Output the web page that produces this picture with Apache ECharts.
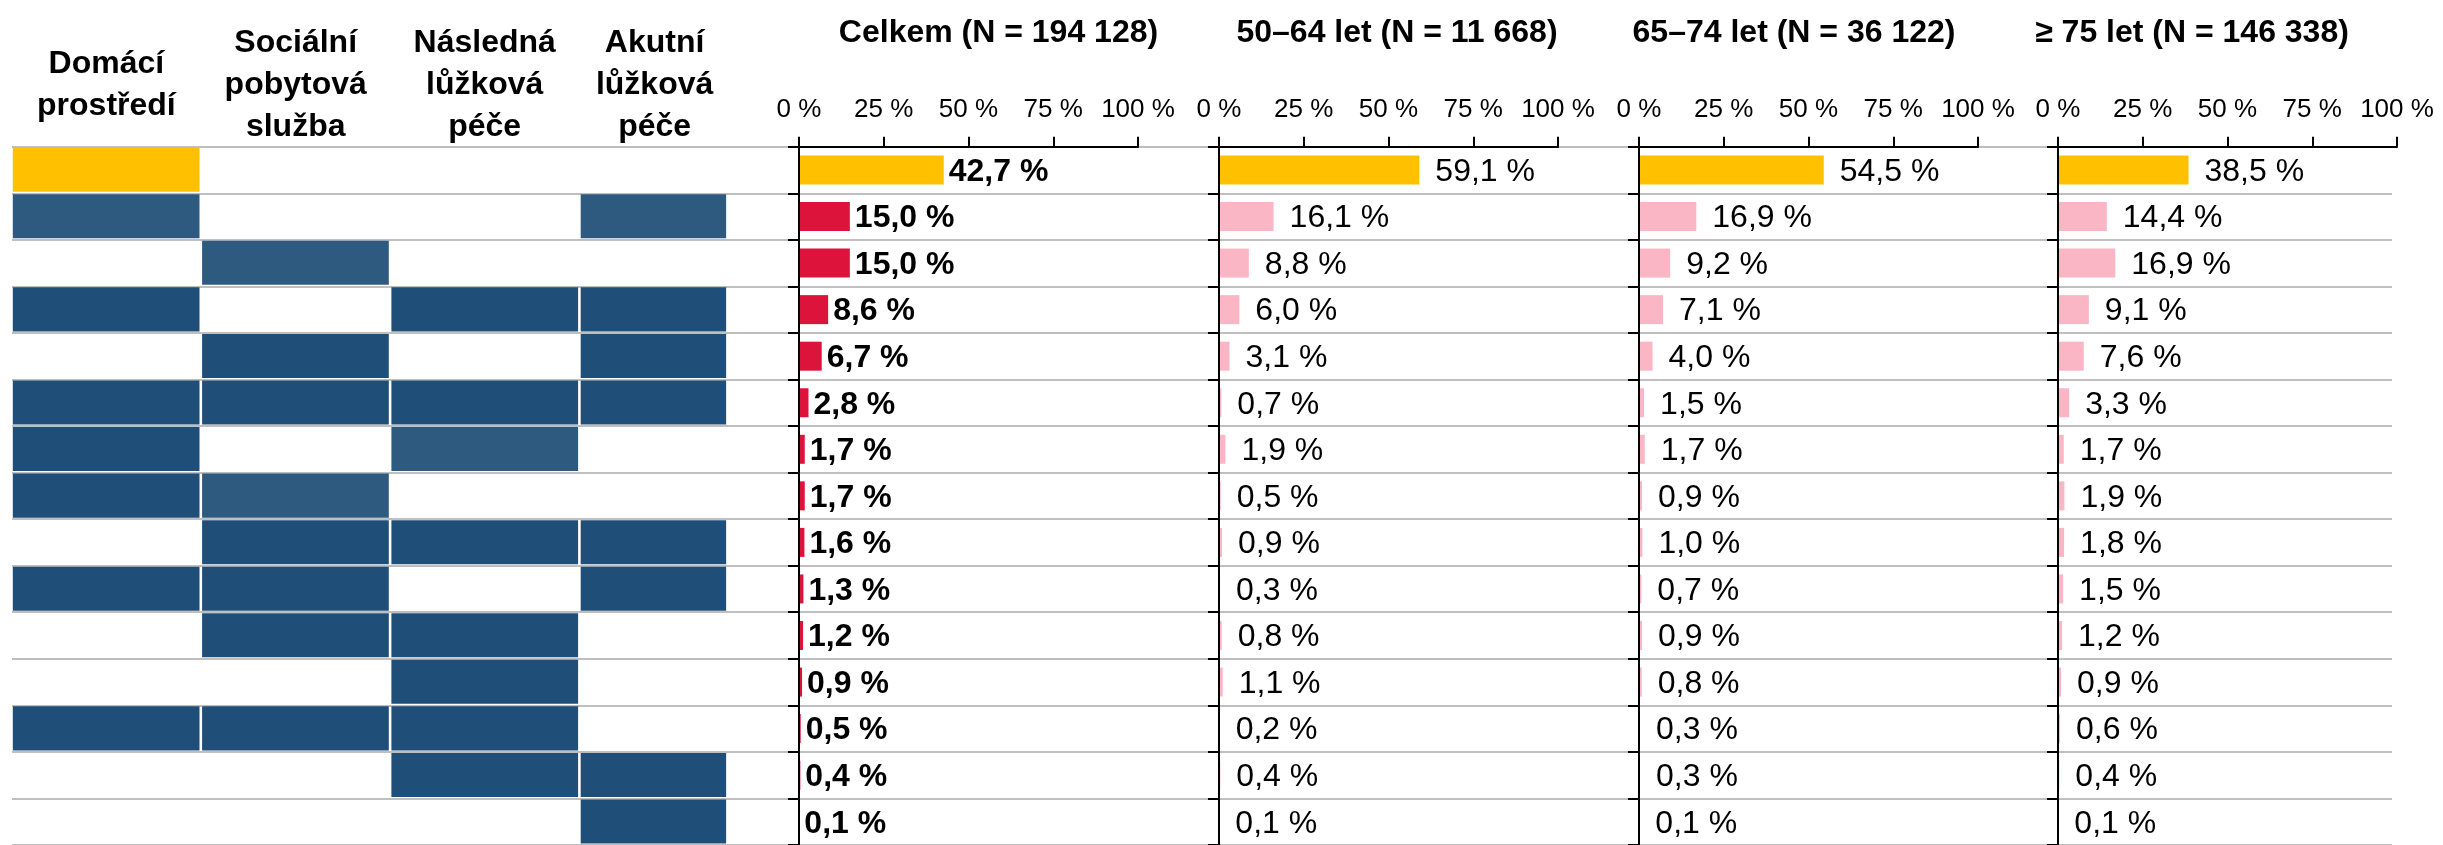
<!DOCTYPE html>
<html>
<head>
<meta charset="utf-8">
<title>Kombinace péče</title>
<script src="https://cdn.jsdelivr.net/npm/echarts@6/dist/echarts.min.js"></script>
<style>
  html, body { margin: 0; padding: 0; background: #fff; }
  #chart { width: 2443px; height: 845px; }
</style>
</head>
<body>
<div id="chart"></div>
<script>
// table columns (header text)
const columns = ['Domácí\nprostředí', 'Sociální\npobytová\nslužba', 'Následná\nlůžková\npéče', 'Akutní\nlůžková\npéče']
// which columns are part of each combination: 0 none, 1 dark, 2 light, 3 yellow
const combos = [
  [3, 0, 0, 0],
  [2, 0, 0, 2],
  [0, 2, 0, 0],
  [1, 0, 1, 1],
  [0, 1, 0, 1],
  [1, 1, 1, 1],
  [1, 0, 2, 0],
  [1, 2, 0, 0],
  [0, 1, 1, 1],
  [1, 1, 0, 1],
  [0, 1, 1, 0],
  [0, 0, 1, 0],
  [1, 1, 1, 0],
  [0, 0, 1, 1],
  [0, 0, 0, 1]
]
const panelTitles = ['Celkem (N = 194 128)', '50–64 let (N = 11 668)', '65–74 let (N = 36 122)', '≥ 75 let (N = 146 338)']
const celkem = [42.7, 15.0, 15.0, 8.6, 6.7, 2.8, 1.7, 1.7, 1.6, 1.3, 1.2, 0.9, 0.5, 0.4, 0.1]
const age5064 = [59.1, 16.1, 8.8, 6.0, 3.1, 0.7, 1.9, 0.5, 0.9, 0.3, 0.8, 1.1, 0.2, 0.4, 0.1]
const age6574 = [54.5, 16.9, 9.2, 7.1, 4.0, 1.5, 1.7, 0.9, 1.0, 0.7, 0.9, 0.8, 0.3, 0.3, 0.1]
const age75 = [38.5, 14.4, 16.9, 9.1, 7.6, 3.3, 1.7, 1.9, 1.8, 1.5, 1.2, 0.9, 0.6, 0.4, 0.1]
const ticks = [0, 25, 50, 75, 100]

// row names built from the combinations
const categories = combos.map(r => r.map((v, i) => v ? columns[i].split('\n')[0] : null).filter(Boolean).join(' + '))
const panels = [celkem, age5064, age6574, age75]

// layout
const font = '"Liberation Sans", Arial, sans-serif'
const rowTop = 146.7, rowH = 46.9
const tableLeft = 12.8, colPitch = 189.3
const colSpan = [1, 1, 1, 0.782]
const panelLeft = [799, 1219, 1639, 2058], panelW = 339
const headerX = [106.4, 295.7, 484.7, 654.6]
const titleX = [998.5, 1397, 1794, 2192]
const cellColors = [null, '#1f4e79', '#2f5a80', '#ffc000']

const chart = echarts.init(document.getElementById('chart'))

const pct = v => v.toFixed(1).replace('.', ',') + ' %'

const grids = [
  // row separators across the whole width
  {left: 12, width: 2380, top: rowTop, height: rowH * combos.length},
  // table of combinations
  {left: tableLeft, width: colPitch * 4, top: rowTop, height: rowH * combos.length}
]
const xAxes = [
  {gridIndex: 0, type: 'value', show: false},
  {gridIndex: 1, type: 'value', min: 0, max: 4, show: false}
]
const yAxes = [
  {
    gridIndex: 0, type: 'category', inverse: true, data: categories,
    axisLine: {show: false}, axisTick: {show: false}, axisLabel: {show: false},
    splitLine: {show: true, lineStyle: {color: '#bfbfbf', width: 2}}
  },
  {gridIndex: 1, type: 'category', inverse: true, data: categories, show: false}
]

const cells = []
combos.forEach((r, row) => r.forEach((v, col) => { if (v) cells.push([col, row, v]) }))

const series = [{
  type: 'custom',
  xAxisIndex: 1,
  yAxisIndex: 1,
  data: cells,
  renderItem(params, api) {
    const col = api.value(0), row = api.value(1), kind = api.value(2)
    const p = api.coord([col, row])
    const size = api.size([1, 1])
    return {
      type: 'rect',
      shape: {x: p[0], y: p[1] - size[1] / 2 + 1, width: size[0] * colSpan[col] - 2.6, height: size[1] - 2.5},
      style: {fill: cellColors[kind]}
    }
  }
}]

panels.forEach((values, i) => {
  const g = grids.length
  grids.push({left: panelLeft[i], width: panelW, top: rowTop, height: rowH * combos.length})
  xAxes.push({
    gridIndex: g, type: 'value', position: 'top',
    min: ticks[0], max: ticks[ticks.length - 1], interval: ticks[1] - ticks[0],
    z: 5,
    axisLine: {show: true, lineStyle: {color: '#000', width: 2}},
    axisTick: {show: true, inside: false, length: 10, lineStyle: {color: '#000', width: 2}},
    axisLabel: {margin: 24, color: '#000', fontSize: 26, fontFamily: font, formatter: '{value} %'},
    splitLine: {show: false}
  })
  yAxes.push({
    gridIndex: g, type: 'category', inverse: true, data: categories,
    z: 5,
    axisLine: {show: true, lineStyle: {color: '#000', width: 2}},
    axisTick: {show: true, length: 11, lineStyle: {color: '#000', width: 2}},
    axisLabel: {show: false}
  })
  series.push({
    type: 'bar',
    name: panelTitles[i],
    xAxisIndex: g,
    yAxisIndex: g,
    barWidth: 29,
    data: values.map((v, k) => ({
      value: v,
      itemStyle: {color: k === 0 ? '#ffc000' : (i === 0 ? '#dc143c' : '#fab6c4')}
    })),
    label: {
      show: true,
      position: 'right',
      distance: i === 0 ? 5 : 16,
      offset: [0, 2],
      color: '#000',
      fontSize: 32,
      fontFamily: font,
      fontWeight: i === 0 ? 'bold' : 'normal',
      formatter: p => pct(p.value)
    }
  })
})

const graphic = columns.map((c, i) => ({
  type: 'text',
  style: {
    text: c, x: headerX[i], y: 85,
    textAlign: 'center', textVerticalAlign: 'middle',
    font: 'bold 32px ' + font, lineHeight: 42, fill: '#000'
  }
})).concat(panelTitles.map((t, i) => ({
  type: 'text',
  style: {
    text: t, x: titleX[i], y: 33,
    textAlign: 'center', textVerticalAlign: 'middle',
    font: 'bold 32px ' + font, fill: '#000'
  }
})))

chart.setOption({
  animation: false,
  backgroundColor: '#fff',
  textStyle: {fontFamily: font},
  grid: grids,
  xAxis: xAxes,
  yAxis: yAxes,
  series,
  graphic
})
</script>
</body>
</html>
